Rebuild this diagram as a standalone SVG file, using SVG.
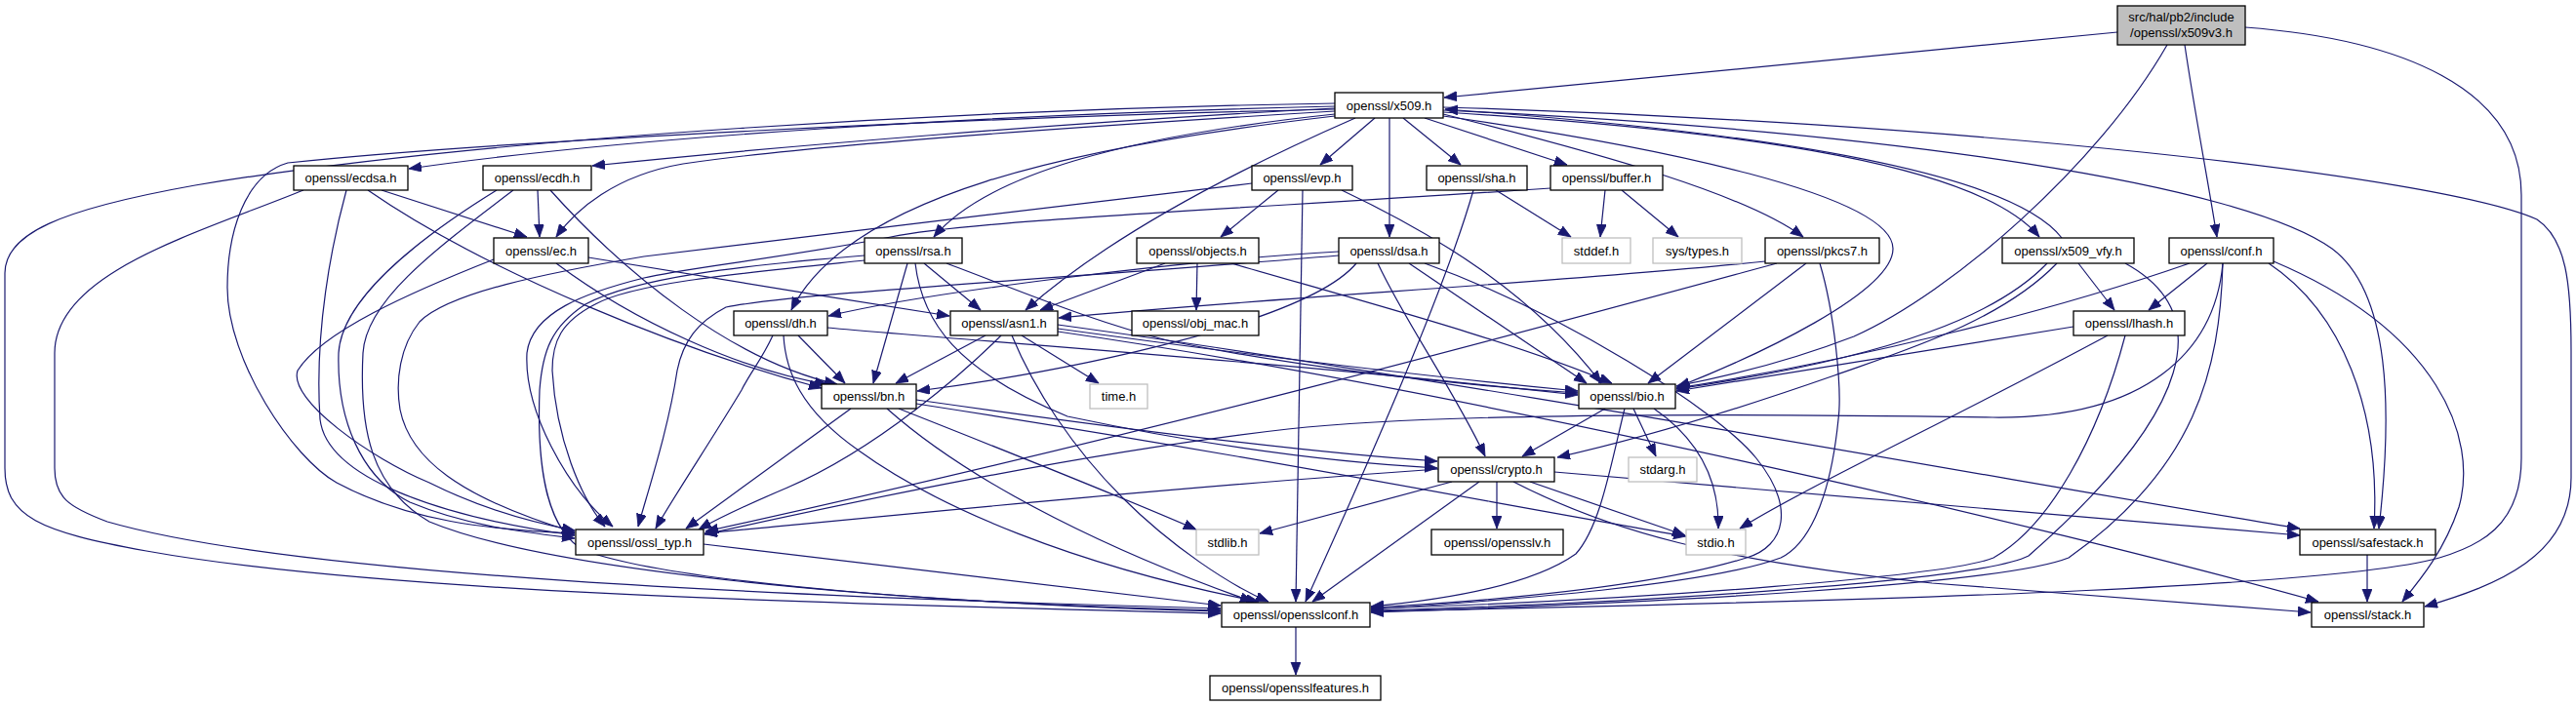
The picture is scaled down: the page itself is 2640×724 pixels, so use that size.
<svg xmlns="http://www.w3.org/2000/svg" width="2640" height="724" viewBox="0 0 2640 724">
<defs>
<marker id="a" markerUnits="userSpaceOnUse" markerWidth="14" markerHeight="11" refX="13" refY="5" orient="auto">
<path d="M0,0 L13,5 L0,10 z" fill="#191970" stroke="#191970" stroke-width="0.8"/>
</marker>
<style>
.n rect{fill:#fff;stroke:#000;stroke-width:1.3}
.g rect{fill:#fff;stroke:#bfbfbf;stroke-width:1.3}
.r rect{fill:#bfbfbf;stroke:#000;stroke-width:1.3}
text{font-family:"Liberation Sans",Arial,sans-serif;font-size:13px;text-anchor:middle;fill:#000}
#edges path{fill:none;stroke:#191970;stroke-width:1.2;marker-end:url(#a)}
</style>
</defs>
<rect width="2640" height="724" fill="#fff"/>
<g id="edges">
<path d="M2170,33 L1480,100"/>
<path d="M2221,46 C2150,170 2000,300 1900,345 C1830,372 1770,386 1718,396"/>
<path d="M2239,46 C2250,120 2262,180 2272,243"/>
<path d="M2301,28 C2460,40 2584,90 2584,200 L2584,470 C2584,540 2540,560 2500,572 C2400,600 2000,615 1405,627"/>
<path d="M1368,109 C1000,118 650,140 419,173"/>
<path d="M1368,111 C1100,125 800,150 607,170"/>
<path d="M1368,114 C1100,130 820,150 700,168 C630,180 590,215 570,243"/>
<path d="M1409,121 L1353,169"/>
<path d="M1438,121 L1497,169"/>
<path d="M1460,121 L1606,169"/>
<path d="M1424,121 L1424,243"/>
<path d="M1368,117 C1150,140 1010,180 957,243"/>
<path d="M1368,119 C1100,150 870,200 811,318"/>
<path d="M1389,121 C1300,160 1150,230 1051,318"/>
<path d="M1479,117 C1650,160 1790,200 1848,243"/>
<path d="M1479,119 C1700,150 1940,200 1940,255 C1940,300 1800,365 1719,397"/>
<path d="M1479,115 C1800,135 2030,170 2090,243"/>
<path d="M2113,244 C2060,175 1800,135 1481,112"/>
<path d="M1479,113 C1950,135 2300,190 2390,255 C2450,300 2452,420 2438,542"/>
<path d="M1479,110 C2000,125 2500,180 2600,225 C2630,245 2635,290 2635,360 L2635,490 C2635,570 2560,600 2485,622"/>
<path d="M1368,106 C1000,112 500,140 200,190 C60,215 5,240 5,280 L5,480 C5,530 40,545 150,565 C400,610 900,620 1251,629"/>
<path d="M1368,112 C1000,120 500,145 295,167 C250,180 233,240 233,295 C233,370 300,470 345,495 C420,535 500,543 589,547"/>
<path d="M391,195 L540,243"/>
<path d="M377,195 C500,280 700,360 842,398"/>
<path d="M355,195 C340,250 322,340 328,430 C335,490 450,530 589,549"/>
<path d="M311,195 C200,240 56,280 56,362 L56,480 C56,510 70,520 110,535 C300,590 800,612 1251,624"/>
<path d="M551,195 L553,243"/>
<path d="M564,195 C640,280 750,370 858,394"/>
<path d="M509,195 C420,250 350,310 347,362 C345,430 370,490 420,515 C480,540 540,546 589,552"/>
<path d="M526,195 C440,260 375,310 372,362 C368,440 380,500 440,535 C560,585 900,618 1251,626"/>
<path d="M570,270 C650,330 760,380 848,394"/>
<path d="M603,264 C700,280 850,305 973,324"/>
<path d="M506,266 C420,300 330,340 305,380 C295,410 380,470 440,495 C490,520 540,535 589,544"/>
<path d="M1283,188 C1100,210 800,245 660,263 C560,280 460,300 430,330 C410,355 405,390 410,420 C420,470 470,510 589,546"/>
<path d="M1310,195 L1251,243"/>
<path d="M1375,195 C1470,240 1570,300 1641,393"/>
<path d="M1335,195 L1328,617"/>
<path d="M1533,195 L1610,243"/>
<path d="M1510,195 C1480,300 1400,480 1338,617"/>
<path d="M1645,195 L1640,243"/>
<path d="M1662,195 L1720,243"/>
<path d="M1589,193 C1300,213 1000,225 913,243 C800,265 700,275 660,285 C600,300 545,320 540,362 C537,420 580,500 628,540"/>
<path d="M947,270 L1005,318"/>
<path d="M930,270 L895,393"/>
<path d="M970,270 C1050,300 1120,330 1200,350 C1350,380 1500,395 1617,403"/>
<path d="M938,270 C945,330 980,380 1094,427 C1250,460 1380,475 1473,480"/>
<path d="M886,267 C760,280 650,290 610,312 C575,330 566,350 566,380 C570,450 595,510 620,540"/>
<path d="M886,262 C760,272 650,285 600,312 C565,335 556,360 553,400 C550,480 560,545 600,565 C700,600 1000,620 1251,627"/>
<path d="M1227,270 L1226,318"/>
<path d="M1194,270 L1066,318"/>
<path d="M1262,270 C1400,310 1550,350 1652,393"/>
<path d="M1444,270 L1626,393"/>
<path d="M1412,270 C1440,330 1490,400 1522,468"/>
<path d="M1460,270 C1600,320 1760,420 1800,470 C1840,520 1830,560 1790,572 C1700,600 1550,615 1405,623"/>
<path d="M1372,262 C1100,285 820,300 744,315 C715,330 700,350 694,380 C685,440 665,500 654,540"/>
<path d="M1390,270 C1340,330 1100,380 940,401"/>
<path d="M1372,258 C1200,268 950,300 849,324"/>
<path d="M1809,268 C1600,290 1300,305 1085,326"/>
<path d="M1851,270 L1689,393"/>
<path d="M1865,270 C1880,320 1888,400 1884,430 C1875,520 1850,560 1825,572 C1750,600 1550,615 1405,625"/>
<path d="M1821,270 C1600,330 1200,440 723,545"/>
<path d="M848,336 C1000,350 1300,370 1617,405"/>
<path d="M818,344 L866,393"/>
<path d="M792,344 C780,370 770,380 760,400 C730,450 690,510 672,542"/>
<path d="M803,344 C805,380 820,420 880,462 C960,520 1100,580 1290,617"/>
<path d="M1010,344 L918,393"/>
<path d="M1047,344 L1126,393"/>
<path d="M1084,337 C1250,360 1450,385 1617,401"/>
<path d="M1084,333 C1500,390 2100,500 2357,542"/>
<path d="M1084,340 C1500,400 2100,540 2376,617"/>
<path d="M1026,344 C990,380 900,460 807,500 C760,520 730,535 716,543"/>
<path d="M1037,344 C1060,400 1100,460 1150,510 C1200,560 1260,600 1300,617"/>
<path d="M872,419 L703,542"/>
<path d="M909,419 C1000,500 1150,570 1284,617"/>
<path d="M921,419 C1050,470 1150,510 1226,543"/>
<path d="M939,410 C1150,440 1350,465 1473,473"/>
<path d="M939,414 C1300,470 1550,520 1728,550"/>
<path d="M1645,419 L1560,468"/>
<path d="M1674,419 L1697,468"/>
<path d="M1695,419 C1740,450 1762,490 1761,542"/>
<path d="M1665,419 C1650,480 1640,540 1615,568 C1570,600 1480,615 1405,622"/>
<path d="M1488,494 L1291,547"/>
<path d="M1516,494 L1345,617"/>
<path d="M1568,494 L1727,549"/>
<path d="M1551,494 C1650,545 1760,575 1980,598 L2368,628"/>
<path d="M1593,484 L2357,549"/>
<path d="M1534,494 L1534,542"/>
<path d="M1474,481 C1200,500 900,530 722,547"/>
<path d="M721,558 L1251,621"/>
<path d="M1328,643 L1328,692"/>
<path d="M2426,569 L2426,617"/>
<path d="M2125,335 C2000,355 1850,380 1718,401"/>
<path d="M2160,344 C2000,430 1850,500 1783,542"/>
<path d="M2178,344 C2150,450 2100,540 2043,572 C2000,590 1700,615 1405,624"/>
<path d="M2130,270 L2167,318"/>
<path d="M2098,270 C2050,320 1950,365 1718,399"/>
<path d="M2108,270 C2050,330 1950,360 1880,385 C1780,420 1680,450 1596,469"/>
<path d="M2178,270 C2270,320 2250,420 2079,570 C2030,595 1700,618 1405,626"/>
<path d="M2262,270 L2202,318"/>
<path d="M2244,270 C2100,320 1900,370 1718,398"/>
<path d="M2325,270 C2400,320 2440,420 2433,542"/>
<path d="M2330,268 C2500,340 2540,450 2520,520 C2505,565 2480,595 2462,617"/>
<path d="M2278,270 C2275,380 2250,480 2120,572 C2050,600 1700,618 1405,628"/>
<path d="M2278,270 C2270,360 2200,430 2042,428 C1900,426 1500,420 1320,440 C1100,465 850,520 722,548"/>
</g>
<g id="n_x509v3" class="r"><rect x="2170" y="6" width="131" height="40"/><text x="2235.5" y="21.5">src/hal/pb2/include</text><text x="2235.5" y="38">/openssl/x509v3.h</text></g>
<g id="n_x509" class="n"><rect x="1368" y="95" width="111" height="26"/><text x="1423.5" y="112.5">openssl/x509.h</text></g>
<g id="n_ecdsa" class="n"><rect x="301" y="170" width="117" height="25"/><text x="359.5" y="187">openssl/ecdsa.h</text></g>
<g id="n_ecdh" class="n"><rect x="495" y="170" width="111" height="25"/><text x="550.5" y="187">openssl/ecdh.h</text></g>
<g id="n_evp" class="n"><rect x="1283" y="170" width="103" height="25"/><text x="1334.5" y="187">openssl/evp.h</text></g>
<g id="n_sha" class="n"><rect x="1462" y="170" width="103" height="25"/><text x="1513.5" y="187">openssl/sha.h</text></g>
<g id="n_buffer" class="n"><rect x="1589" y="170" width="115" height="25"/><text x="1646.5" y="187">openssl/buffer.h</text></g>
<g id="n_ec" class="n"><rect x="506" y="244" width="97" height="26"/><text x="554.5" y="261.5">openssl/ec.h</text></g>
<g id="n_rsa" class="n"><rect x="886" y="244" width="100" height="26"/><text x="936" y="261.5">openssl/rsa.h</text></g>
<g id="n_objects" class="n"><rect x="1165" y="244" width="125" height="26"/><text x="1227.5" y="261.5">openssl/objects.h</text></g>
<g id="n_dsa" class="n"><rect x="1372" y="244" width="103" height="26"/><text x="1423.5" y="261.5">openssl/dsa.h</text></g>
<g id="n_stddef" class="g"><rect x="1601" y="244" width="70" height="26"/><text x="1636" y="261.5">stddef.h</text></g>
<g id="n_systypes" class="g"><rect x="1694" y="244" width="91" height="26"/><text x="1739.5" y="261.5">sys/types.h</text></g>
<g id="n_pkcs7" class="n"><rect x="1809" y="244" width="117" height="26"/><text x="1867.5" y="261.5">openssl/pkcs7.h</text></g>
<g id="n_x509vfy" class="n"><rect x="2052" y="244" width="135" height="26"/><text x="2119.5" y="261.5">openssl/x509_vfy.h</text></g>
<g id="n_conf" class="n"><rect x="2223" y="244" width="107" height="26"/><text x="2276.5" y="261.5">openssl/conf.h</text></g>
<g id="n_dh" class="n"><rect x="752" y="319" width="96" height="25"/><text x="800" y="336">openssl/dh.h</text></g>
<g id="n_asn1" class="n"><rect x="974" y="319" width="110" height="25"/><text x="1029" y="336">openssl/asn1.h</text></g>
<g id="n_objmac" class="n"><rect x="1160" y="319" width="130" height="25"/><text x="1225" y="336">openssl/obj_mac.h</text></g>
<g id="n_lhash" class="n"><rect x="2125" y="319" width="114" height="25"/><text x="2182" y="336">openssl/lhash.h</text></g>
<g id="n_bn" class="n"><rect x="842" y="394" width="97" height="25"/><text x="890.5" y="411">openssl/bn.h</text></g>
<g id="n_time" class="g"><rect x="1117" y="394" width="59" height="25"/><text x="1146.5" y="411">time.h</text></g>
<g id="n_bio" class="n"><rect x="1618" y="394" width="99" height="25"/><text x="1667.5" y="411">openssl/bio.h</text></g>
<g id="n_crypto" class="n"><rect x="1474" y="469" width="119" height="25"/><text x="1533.5" y="486">openssl/crypto.h</text></g>
<g id="n_stdarg" class="g"><rect x="1669" y="469" width="70" height="25"/><text x="1704" y="486">stdarg.h</text></g>
<g id="n_ossltyp" class="n"><rect x="590" y="543" width="131" height="26"/><text x="655.5" y="560.5">openssl/ossl_typ.h</text></g>
<g id="n_stdlib" class="g"><rect x="1226" y="543" width="64" height="26"/><text x="1258" y="560.5">stdlib.h</text></g>
<g id="n_opensslv" class="n"><rect x="1467" y="543" width="135" height="26"/><text x="1534.5" y="560.5">openssl/opensslv.h</text></g>
<g id="n_stdio" class="g"><rect x="1728" y="543" width="61" height="26"/><text x="1758.5" y="560.5">stdio.h</text></g>
<g id="n_safestack" class="n"><rect x="2357" y="543" width="139" height="26"/><text x="2426.5" y="560.5">openssl/safestack.h</text></g>
<g id="n_opensslconf" class="n"><rect x="1252" y="618" width="152" height="25"/><text x="1328" y="635">openssl/opensslconf.h</text></g>
<g id="n_stack" class="n"><rect x="2369" y="618" width="115" height="25"/><text x="2426.5" y="635">openssl/stack.h</text></g>
<g id="n_features" class="n"><rect x="1240" y="693" width="175" height="25"/><text x="1327.5" y="710">openssl/opensslfeatures.h</text></g>
</svg>
